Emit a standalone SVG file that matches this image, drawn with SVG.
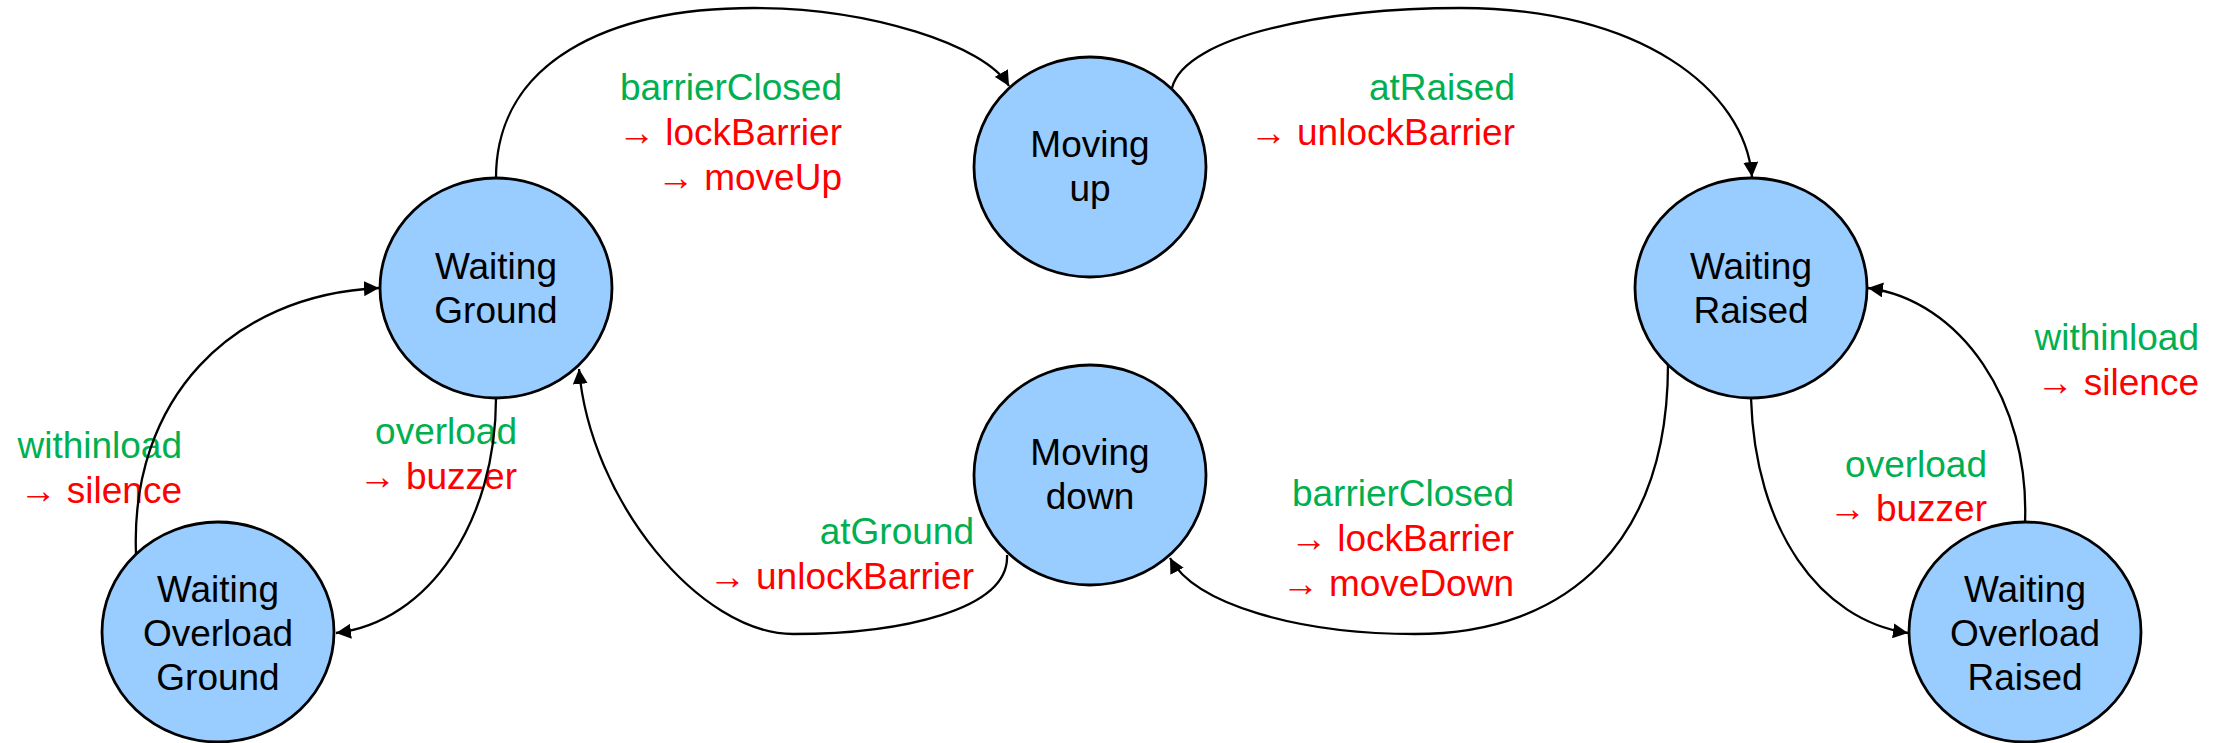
<svg xmlns="http://www.w3.org/2000/svg" width="2221" height="743" viewBox="0 0 2221 743">
  <style>
    .state { fill: #99CCFF; stroke: #000000; stroke-width: 2.8; }
    .name { font-family: "Liberation Sans", Arial, sans-serif; font-size: 37px; fill: #000000; text-anchor: middle; }
    .lbl { font-family: "Liberation Sans", Arial, sans-serif; font-size: 37px; text-anchor: end; }
    .ev { fill: #00B050; }
    .act { fill: #FF0000; }
    .edge { fill: none; stroke: #000000; stroke-width: 2.3; marker-end: url(#arrow); }
  </style>
  <defs>
    <marker id="arrow" viewBox="0 0 15 15" refX="15" refY="7.5" markerWidth="15" markerHeight="15" markerUnits="userSpaceOnUse" orient="auto">
      <path d="M0,0 L15,7.5 L0,15 Z" fill="#000000"/>
    </marker>
  </defs>

  <rect width="2221" height="743" fill="#ffffff"/>

  <!-- transition labels: event (green) and actions (red) -->
  <g id="labels">
    <text class="lbl" x="842" y="100"><tspan class="ev">barrierClosed</tspan></text>
    <text class="lbl act" x="842" y="145">→ lockBarrier</text>
    <text class="lbl act" x="842" y="190">→ moveUp</text>

    <text class="lbl ev" x="1515" y="100">atRaised</text>
    <text class="lbl act" x="1515" y="145">→ unlockBarrier</text>

    <text class="lbl ev" x="2199" y="350">withinload</text>
    <text class="lbl act" x="2199" y="395">→ silence</text>

    <text class="lbl ev" x="1987" y="477">overload</text>
    <text class="lbl act" x="1987" y="521">→ buzzer</text>

    <text class="lbl ev" x="1514" y="506">barrierClosed</text>
    <text class="lbl act" x="1514" y="551">→ lockBarrier</text>
    <text class="lbl act" x="1514" y="596">→ moveDown</text>

    <text class="lbl ev" x="974" y="544">atGround</text>
    <text class="lbl act" x="974" y="589">→ unlockBarrier</text>

    <text class="lbl ev" x="517" y="444">overload</text>
    <text class="lbl act" x="517" y="489">→ buzzer</text>

    <text class="lbl ev" x="182" y="458">withinload</text>
    <text class="lbl act" x="182" y="503">→ silence</text>
  </g>

  <!-- transitions -->
  <g id="connectors">
    <path class="edge" d="M496,178 C496,62 608,8 754,8 C870,8 985,45 1009,86"/>
    <path class="edge" d="M1172,88 C1185,35 1330,8 1461,8 C1640,8 1745,90 1752,177"/>
    <path class="edge" d="M1668,364 C1668,540 1570,634 1415,634 C1300,634 1195,605 1170,558"/>
    <path class="edge" d="M1007,555 C1010,610 900,634 793,634 C700,634 590,500 579,369"/>
    <path class="edge" d="M496,398 C496,520 430,622 336,633"/>
    <path class="edge" d="M136,554 C130,400 230,295 379,288"/>
    <path class="edge" d="M1751,398 C1755,530 1820,620 1908,633"/>
    <path class="edge" d="M2025,523 C2030,400 1960,300 1868,288"/>
  </g>

  <!-- states -->
  <g id="waiting-ground">
    <ellipse class="state" cx="496" cy="288" rx="116" ry="110"/>
    <text class="name" x="496" y="279">Waiting</text>
    <text class="name" x="496" y="323">Ground</text>
  </g>
  <g id="moving-up">
    <ellipse class="state" cx="1090" cy="167" rx="116" ry="110"/>
    <text class="name" x="1090" y="157">Moving</text>
    <text class="name" x="1090" y="201">up</text>
  </g>
  <g id="waiting-raised">
    <ellipse class="state" cx="1751" cy="288" rx="116" ry="110"/>
    <text class="name" x="1751" y="279">Waiting</text>
    <text class="name" x="1751" y="323">Raised</text>
  </g>
  <g id="moving-down">
    <ellipse class="state" cx="1090" cy="475" rx="116" ry="110"/>
    <text class="name" x="1090" y="465">Moving</text>
    <text class="name" x="1090" y="509">down</text>
  </g>
  <g id="waiting-overload-ground">
    <ellipse class="state" cx="218" cy="632" rx="116" ry="110"/>
    <text class="name" x="218" y="602">Waiting</text>
    <text class="name" x="218" y="646">Overload</text>
    <text class="name" x="218" y="690">Ground</text>
  </g>
  <g id="waiting-overload-raised">
    <ellipse class="state" cx="2025" cy="632" rx="116" ry="110"/>
    <text class="name" x="2025" y="602">Waiting</text>
    <text class="name" x="2025" y="646">Overload</text>
    <text class="name" x="2025" y="690">Raised</text>
  </g>
</svg>
